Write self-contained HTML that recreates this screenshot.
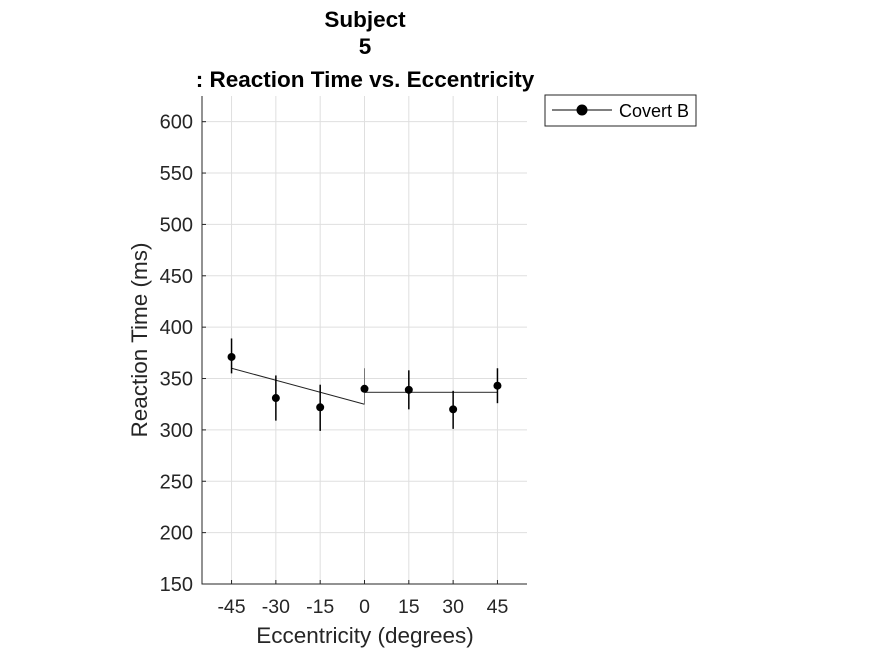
<!DOCTYPE html>
<html><head><style>
body{margin:0;background:#fff;}
text{font-family:"Liberation Sans",sans-serif;}
</style></head><body>
<svg width="875" height="656" id="svg"></svg>
<script>
const cats=[-45,-30,-15,0,15,30,45];
const means=[371,331,322,340,339,320,343];
const errLo=[355,309,299,340,320,301,326];
const errHi=[389,353,344,340,358,338,360];
const fitLeftX=[-45,0];const fitLeftY=[360,325];
const fitRightX=[0,45];const fitRightY=[336.5,336.5];
const yTicks=[150,200,250,300,350,400,450,500,550,600];
const xTicks=[-45,-30,-15,0,15,30,45];
const L=202,R=527,T=96,B=584;
const xs=v=>L+(v+55)/110*(R-L);
const ys=v=>B-(v-150)/475*(B-T);
const svg=document.getElementById('svg');
const NS='http://www.w3.org/2000/svg';
function mk(t,a,p){const e=document.createElementNS(NS,t);for(const k in a)e.setAttribute(k,a[k]);(p||svg).appendChild(e);return e;}
yTicks.forEach(v=>{const g=mk('line',{x1:L,x2:R,y1:ys(v),y2:ys(v),stroke:'#dfdfdf','stroke-width':1});


const t=mk('text',{x:L-9,y:ys(v)+7,'text-anchor':'end','font-size':20,fill:'#262626'});t.textContent=v;


mk('line',{x1:L,x2:L+4,y1:ys(v),y2:ys(v),stroke:'#262626'});});
xTicks.forEach(v=>{const g=mk('line',{x1:xs(v),x2:xs(v),y1:T,y2:B,stroke:'#dfdfdf','stroke-width':1});


const t=mk('text',{x:xs(v),y:B+29,'text-anchor':'middle','font-size':19.5,fill:'#262626'});t.textContent=v;


mk('line',{x1:xs(v),x2:xs(v),y1:B,y2:B-4,stroke:'#262626'});});
const ax=mk('path',{d:`M${L},${T}V${B}H${R}`,fill:'none',stroke:'#262626','stroke-width':1});


const f1=mk('line',{x1:xs(fitLeftX[0]),y1:ys(fitLeftY[0]),x2:xs(fitLeftX[1]),y2:ys(fitLeftY[1]),stroke:'#222','stroke-width':1});


const f2=mk('line',{x1:xs(fitRightX[0]),y1:ys(fitRightY[0]),x2:xs(fitRightX[1]),y2:ys(fitRightY[1]),stroke:'#555','stroke-width':1.3});


const vz=mk('line',{x1:xs(0),x2:xs(0),y1:ys(360),y2:ys(325),stroke:'#777','stroke-width':1});


cats.forEach((c,i)=>{const e=mk('line',{x1:xs(c),x2:xs(c),y1:ys(errLo[i]),y2:ys(errHi[i]),stroke:'#000','stroke-width':1.5});


const p=mk('circle',{cx:xs(c),cy:ys(means[i]),r:4,fill:'#000'});

});
[['Subject',27],['5',54],[': Reaction Time vs. Eccentricity',87]].forEach(([s,y])=>{const t=mk('text',{x:365,y:y,'text-anchor':'middle','font-size':22.5,'font-weight':'bold',fill:'#000'});t.textContent=s;

});
const xl=mk('text',{x:365,y:643,'text-anchor':'middle','font-size':22.5,fill:'#262626'});xl.textContent='Eccentricity (degrees)';


const yl=mk('text',{x:0,y:0,'text-anchor':'middle','font-size':22.5,fill:'#262626',transform:'translate(147,340) rotate(-90)'});yl.textContent='Reaction Time (ms)';


const lg=mk('g',{});


mk('rect',{x:545,y:95,width:151,height:31,fill:'#fff',stroke:'#262626','stroke-width':1},lg);
mk('line',{x1:552,x2:612,y1:110,y2:110,stroke:'#000'},lg);
mk('circle',{cx:582,cy:110,r:5.5,fill:'#000'},lg);
const lt=mk('text',{x:619,y:117,'font-size':18,fill:'#000'},lg);lt.textContent='Covert B';


</script>
</body></html>
